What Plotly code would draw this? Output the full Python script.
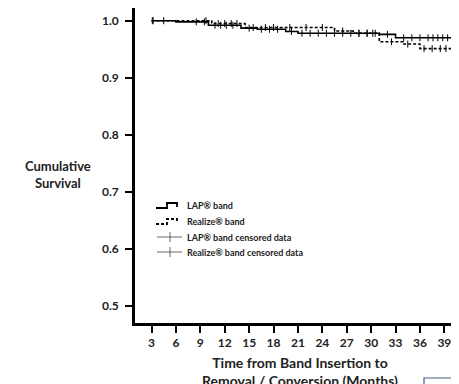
import plotly.graph_objects as go

# Kaplan-Meier step data (months, cumulative survival)
lap_t = [3, 6, 10, 14, 16, 19.5, 21, 31, 33, 40.2]
lap_s = [1.0, 0.998, 0.992, 0.987, 0.985, 0.981, 0.978, 0.976, 0.970, 0.970]
rea_t = [3, 10.4, 14.5, 19.5, 25.5, 27.8, 31, 33.9, 36, 40.2]
rea_s = [1.0, 0.995, 0.988, 0.988, 0.982, 0.978, 0.963, 0.959, 0.951, 0.951]

# Censored observation times
lap_cens = [3.1, 4.5, 8.5, 9.5, 10.8, 11.5, 12.2, 13.0, 15.0, 16.5, 17.5, 18.5, 20.2, 21.5,
            22.5, 23.5, 24.5, 25.5, 26.5, 27.5, 28.5, 29.5, 30.5, 32.0, 34.0, 35.0, 36.0,
            37.0, 37.6, 38.2, 38.8, 39.4, 40.0]
rea_cens = [3.2, 9.7, 11.2, 12.0, 12.8, 13.5, 15.5, 17.0, 18.0, 20.0, 22.0, 24.0, 26.5,
            28.5, 29.5, 30.2, 32.5, 34.5, 36.5, 37.5, 38.5, 39.2]

x_ticks = [3, 6, 9, 12, 15, 18, 21, 24, 27, 30, 33, 36, 39]
y_ticks = [0.5, 0.6, 0.7, 0.8, 0.9, 1.0]
legend_labels = ["LAP® band", "Realize® band", "LAP® band censored data", "Realize® band censored data"]

OFF = 8  # page body margin
W, H = 459, 384 - OFF
L, R, T, B = 135 - OFF, 8, 0, 376 - 315
PW, PH = W - L - R, H - T - B


def px(x):  # screen x -> paper
    return (x - OFF - L) / PW


def py(y):  # screen y -> paper
    return (H - B - (y - OFF)) / PH


def surv_at(ts, ss, t):
    v = ss[0]
    for ti, si in zip(ts, ss):
        if ti <= t:
            v = si
    return v


FONT = "Lato"
fig = go.Figure()
fig.add_trace(go.Scatter(x=lap_t, y=lap_s, mode="lines", line=dict(shape="hv", color="black", width=1.6),
                         name=legend_labels[0]))
fig.add_trace(go.Scatter(x=rea_t, y=rea_s, mode="lines",
                         line=dict(shape="hv", color="black", width=1.6, dash="3px,2px"),
                         name=legend_labels[1]))
fig.add_trace(go.Scatter(x=lap_cens, y=[surv_at(lap_t, lap_s, t) for t in lap_cens], mode="markers",
                         marker=dict(symbol="line-ns", size=5, line=dict(color="black", width=1)),
                         name=legend_labels[2], hoverinfo="skip"))
fig.add_trace(go.Scatter(x=rea_cens, y=[surv_at(rea_t, rea_s, t) for t in rea_cens], mode="markers",
                         marker=dict(symbol="line-ns", size=5, line=dict(color="black", width=1)),
                         name=legend_labels[3], hoverinfo="skip"))

# manual legend (matching the reference's compact layout)
rows = [205, 221, 237, 252]
shapes = []
annotations = []


def path(points):
    s = "M %f,%f" % (px(points[0][0]), py(points[0][1]))
    for (a, b) in points[1:]:
        s += " L %f,%f" % (px(a), py(b))
    return s


yc = rows[0]
shapes.append(dict(type="path", xref="paper", yref="paper",
                   path=path([(156, yc + 3), (167, yc + 3), (167, yc - 2), (177, yc - 2), (177, yc + 2)]),
                   line=dict(color="black", width=1.8)))
yc = rows[1]
shapes.append(dict(type="path", xref="paper", yref="paper",
                   path=path([(156, yc + 3), (167, yc + 3), (167, yc - 2), (177, yc - 2), (177, yc + 2)]),
                   line=dict(color="black", width=1.8, dash="3px,2px")))
for yc in rows[2:]:
    shapes.append(dict(type="line", xref="paper", yref="paper", x0=px(157), x1=px(182), y0=py(yc), y1=py(yc),
                       line=dict(color="#444", width=0.8)))
    shapes.append(dict(type="line", xref="paper", yref="paper", x0=px(170), x1=px(170), y0=py(yc - 5),
                       y1=py(yc + 5), line=dict(color="#444", width=0.8)))
for lbl, yc in zip(legend_labels, rows):
    annotations.append(dict(text="<b>%s</b>" % lbl, xref="paper", yref="paper", x=px(185), y=py(yc),
                            xanchor="left", yanchor="middle", showarrow=False,
                            font=dict(size=9, family=FONT, color="#222")))

annotations += [
    dict(text="<b>Cumulative<br>Survival</b>", xref="paper", yref="paper", x=px(58), y=py(174),
         xanchor="center", yanchor="middle", showarrow=False,
         font=dict(size=13, family=FONT, color="#222")),
    dict(text="<b>Time from Band Insertion to<br>Removal / Conversion (Months)</b>",
         xref="paper", yref="paper", x=px(300), y=py(352), xanchor="center", yanchor="top",
         showarrow=False, font=dict(size=14, family=FONT, color="#222")),
]
shapes.append(dict(type="rect", xref="paper", yref="paper", x0=px(424), x1=px(480), y0=py(378), y1=py(400),
                   line=dict(color="#4a5a8a", width=1.2)))

# screen y of 1.0 is 20.7, 57 px per 0.1
y_top = 1.0 + (20.7 - OFF) / 570.0
y_bot = 1.0 - (323 - 20.7) / 570.0

fig.update_layout(
    width=W, height=H,
    margin=dict(l=L, r=R, t=T, b=B, autoexpand=False),
    plot_bgcolor="white", paper_bgcolor="white",
    font=dict(family=FONT, color="#222"),
    showlegend=False,
    xaxis=dict(range=[0.97, 40.8], tickmode="array", tickvals=x_ticks, automargin=False,
               ticktext=[str(v) for v in x_ticks], showgrid=False, zeroline=False,
               showline=True, linecolor="black", linewidth=2.5, ticks="outside",
               ticklen=7, tickwidth=1.5, tickcolor="black", ticklabeloverflow="allow",
               tickfont=dict(size=12, family=FONT, color="#222", weight="bold")),
    yaxis=dict(range=[y_bot, y_top], tickmode="array", tickvals=y_ticks, automargin=False,
               ticktext=["%.1f" % v for v in y_ticks], showgrid=False, zeroline=False,
               showline=True, linecolor="black", linewidth=2.5, ticks="outside",
               ticklen=7, tickwidth=1.5, tickcolor="black", ticklabelstandoff=4,
               tickfont=dict(size=12, family=FONT, color="#222", weight="bold")),
    annotations=annotations,
    shapes=shapes,
)

fig.write_html("out.html")
